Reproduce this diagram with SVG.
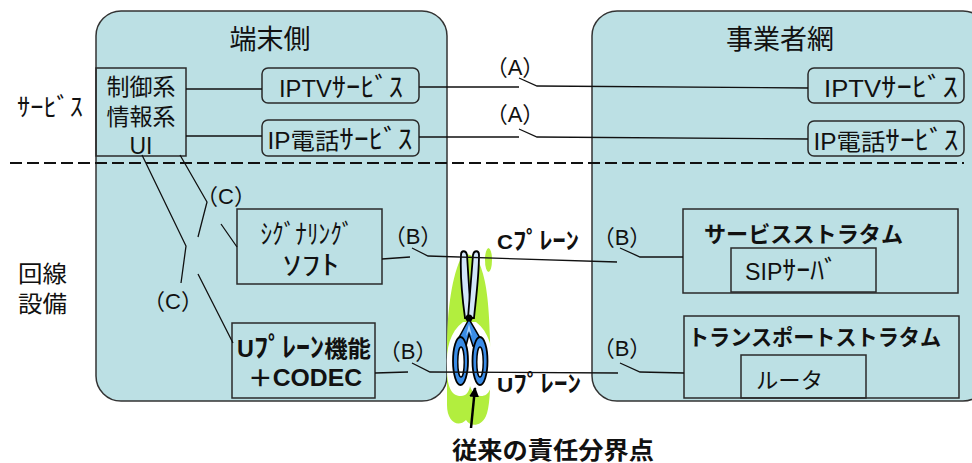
<svg xmlns="http://www.w3.org/2000/svg" width="972" height="463" viewBox="0 0 972 463">
  <style>
    text { font-family: 'Liberation Sans', 'Noto Sans CJK JP', sans-serif; fill: #111; }
    .panel { fill: #bce0e4; stroke: #333; stroke-width: 1.5; }
    .box { fill: none; stroke: #2a2a2a; stroke-width: 1.5; }
    .t23 { font-size: 23px; }
    .t22 { font-size: 22px; }
    .title { font-size: 27px; text-anchor: middle; }
    .b { font-weight: bold; }
    .mid { text-anchor: middle; }
    .kn { font-size: 1.2em; }
    .lbl { font-size: 22px; text-anchor: middle; }
    .wire { fill: none; stroke: #111; stroke-width: 1.3; }
    .sep { fill: none; stroke: #111; stroke-width: 2; stroke-dasharray: 12 5; }
  </style>
  <defs>
    <marker id="head" viewBox="0 0 10 10" refX="9" refY="5" markerWidth="4" markerHeight="4" orient="auto">
      <path d="M0,0 L10,5 L0,10 Z" fill="#000"/>
    </marker>
  </defs>

  <rect width="972" height="463" fill="#fff"/>

  <!-- side panels -->
  <g id="terminal-side">
    <rect class="panel" x="96" y="11" width="351" height="390" rx="25"/>
    <text class="title" x="270" y="49">端末側</text>
  </g>
  <g id="carrier-net">
    <rect class="panel" x="592" y="11" width="396" height="390" rx="25"/>
    <text class="title" x="780" y="49">事業者網</text>
  </g>

  <!-- row labels and layer separator -->
  <g id="row-labels">
    <text x="17" y="116" style="font-size:25px" textLength="66" lengthAdjust="spacingAndGlyphs">ｻｰﾋﾞｽ</text>
    <text class="t23" x="18" y="282" textLength="49" lengthAdjust="spacingAndGlyphs">回線</text>
    <text class="t23" x="18" y="312" textLength="49" lengthAdjust="spacingAndGlyphs">設備</text>
  </g>
  <path class="sep" d="M10,163 H964"/>

  <!-- terminal side nodes -->
  <g id="ui">
    <rect class="box" x="96" y="68" width="90" height="88"/>
    <text class="t23 mid" x="141" y="95">制御系</text>
    <text class="t23 mid" x="141" y="125">情報系</text>
    <text class="t23 mid" x="141" y="154">UI</text>
  </g>
  <g id="iptv-terminal">
    <rect class="box" x="262" y="68" width="157" height="35" rx="6"/>
    <text class="t23 mid" x="341" y="97" textLength="124" lengthAdjust="spacingAndGlyphs">IPTV<tspan class="kn">ｻｰﾋﾞｽ</tspan></text>
  </g>
  <g id="ipphone-terminal">
    <rect class="box" x="262" y="120" width="157" height="36" rx="6"/>
    <text class="t23 mid" x="340" y="149" textLength="145" lengthAdjust="spacingAndGlyphs">IP電話<tspan class="kn">ｻｰﾋﾞｽ</tspan></text>
  </g>
  <g id="signaling">
    <rect class="box" x="237" y="209" width="145" height="75"/>
    <text class="mid" x="307" y="244" style="font-size:27px" textLength="93" lengthAdjust="spacingAndGlyphs">ｼｸﾞﾅﾘﾝｸﾞ</text>
    <text class="mid" x="311" y="275" style="font-size:27px" textLength="57" lengthAdjust="spacingAndGlyphs">ｿﾌﾄ</text>
  </g>
  <g id="uplane-codec">
    <rect class="box" x="232" y="323" width="143" height="75"/>
    <text class="t23 b mid" x="304" y="357" textLength="134" lengthAdjust="spacingAndGlyphs">U<tspan class="kn">ﾌﾟﾚｰﾝ</tspan>機能</text>
    <text class="t23 b mid" x="305" y="386" textLength="114" lengthAdjust="spacingAndGlyphs">＋CODEC</text>
  </g>

  <!-- carrier side nodes -->
  <g id="iptv-carrier">
    <rect class="box" x="808" y="68" width="156" height="35" rx="6"/>
    <text class="t23 mid" x="891" y="97" textLength="134" lengthAdjust="spacingAndGlyphs">IPTV<tspan class="kn">ｻｰﾋﾞｽ</tspan></text>
  </g>
  <g id="ipphone-carrier">
    <rect class="box" x="808" y="121" width="156" height="35" rx="6"/>
    <text class="t23 mid" x="886" y="150" textLength="145" lengthAdjust="spacingAndGlyphs">IP電話<tspan class="kn">ｻｰﾋﾞｽ</tspan></text>
  </g>
  <g id="service-stratum">
    <rect class="box" x="683" y="209" width="275" height="84"/>
    <text class="t22 b" x="704" y="242" textLength="199" lengthAdjust="spacingAndGlyphs">サービスストラタム</text>
  </g>
  <g id="sip-server">
    <rect class="box" x="731" y="248" width="145" height="44"/>
    <text class="t23" x="745" y="280" textLength="93" lengthAdjust="spacingAndGlyphs">SIP<tspan class="kn">ｻｰﾊﾞ</tspan></text>
  </g>
  <g id="transport-stratum">
    <rect class="box" x="684" y="316" width="275" height="82"/>
    <text class="t22 b" x="688" y="345" textLength="253" lengthAdjust="spacingAndGlyphs">トランスポートストラタム</text>
  </g>
  <g id="router">
    <rect class="box" x="741" y="355" width="125" height="43"/>
    <text class="t22" x="756" y="388" textLength="67" lengthAdjust="spacingAndGlyphs">ルータ</text>
  </g>

  <!-- demarcation point: scissors -->
  <g id="demarcation">
    <path d="M462,256 C452,275 447,310 447,350 L447,405 C447,422 458,428 466,420 C470,427 481,427 486,416 C491,405 491,370 490,340 C489,300 486,280 480,265 C476,256 468,252 462,256 Z" fill="#b2ee3e"/>
    <ellipse cx="488.5" cy="260" rx="3.5" ry="12" fill="#b2ee3e"/>
    <!-- halo behind the handles -->
    <path d="M463,322 C450,332 446,348 447,368 C447,390 453,396 461,396 C466,396 469,392 470,386 C472,392 475,396 481,396 C489,396 493,388 493,368 C493,348 489,332 476,322 Z" fill="#fff"/>
    <!-- blades -->
    <path d="M461,255 C461,250 466,250 467,255 L471,318 L465,318 C462,296 460,275 461,255 Z" fill="#d2e6fa" stroke="#000" stroke-width="1.8"/>
    <path d="M473,255 C474,250 479,250 479,255 C479,276 476,298 474,318 L468,318 Z" fill="#d2e6fa" stroke="#000" stroke-width="1.8"/>
    <!-- handle arms -->
    <path d="M469,319 L456,343 L466,346 L469,334 L473,346 L483,343 Z" fill="#3a8ce6" stroke="#000" stroke-width="1.5"/>
    <path d="M469,324 L466,336 L469,331 L472,336 Z" fill="#a8d0f8"/>
    <!-- finger loops -->
    <ellipse cx="460.5" cy="361" rx="7.5" ry="24" fill="#3a8ce6" stroke="#000" stroke-width="1.8"/>
    <ellipse cx="461" cy="362" rx="3.2" ry="15" fill="#fff" stroke="#000" stroke-width="1.4"/>
    <ellipse cx="480" cy="361" rx="7.5" ry="24" fill="#3a8ce6" stroke="#000" stroke-width="1.8"/>
    <ellipse cx="480" cy="362" rx="3.2" ry="15" fill="#fff" stroke="#000" stroke-width="1.4"/>
    <circle cx="469" cy="318" r="3.5" fill="#000"/>
    <path d="M471,428 L475,388" stroke="#000" stroke-width="2.5" marker-end="url(#head)"/>
    <text class="b" x="452" y="459" style="font-size:24px" textLength="202" lengthAdjust="spacingAndGlyphs">従来の責任分界点</text>
  </g>

  <!-- connectors -->
  <g id="connectors">
    <!-- UI to services -->
    <path class="wire" d="M186,89 H262"/>
    <path class="wire" d="M186,136 H262"/>
    <!-- (A) service links -->
    <path class="wire" d="M419,87 H519 M519,78 L537,86 L808,88"/>
    <path class="wire" d="M419,137 H519 M519,129 L537,137 L808,139"/>
    <!-- (C) internal links -->
    <path class="wire" d="M180,155 L207,202 L198,237 M221,224 L237,247"/>
    <path class="wire" d="M142,155 L186,246 L181,283 M198,274 L233,343"/>
    <!-- (B) C-plane -->
    <path class="wire" d="M382,259 L410,257 M412,248 L428,256 L617,262 M620,248 L640,257 L683,257"/>
    <!-- (B) U-plane -->
    <path class="wire" d="M375,373 L408,372 M412,363 L430,372 L618,373 M620,363 L640,372 L684,373"/>
  </g>

  <!-- connector labels -->
  <g id="connector-labels">
    <text class="lbl" x="515" y="75">（A）</text>
    <text class="lbl" x="515" y="122">（A）</text>
    <text class="lbl" x="226" y="204">（C）</text>
    <text class="lbl" x="173" y="309">（C）</text>
    <text class="lbl" x="413" y="244">（B）</text>
    <text class="lbl" x="408" y="359">（B）</text>
    <text class="lbl" x="622" y="245">（B）</text>
    <text class="lbl" x="622" y="356">（B）</text>
    <text class="b" x="497" y="249" style="font-size:20px" textLength="82" lengthAdjust="spacingAndGlyphs">C<tspan class="kn">ﾌﾟﾚｰﾝ</tspan></text>
    <text class="b" x="497" y="392" style="font-size:20px" textLength="84" lengthAdjust="spacingAndGlyphs">U<tspan class="kn">ﾌﾟﾚｰﾝ</tspan></text>
  </g>
</svg>
